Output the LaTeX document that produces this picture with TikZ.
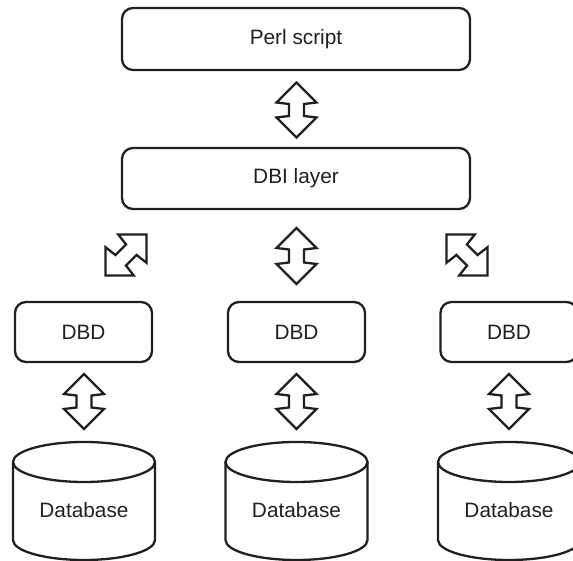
\documentclass[tikz,border=0pt]{standalone}
\usepackage{fontspec}
\setmainfont{Liberation Sans}
\definecolor{ink}{HTML}{231F20}
\begin{document}
\begin{tikzpicture}[x=1pt,y=1pt,
  stroke/.style={draw=ink,line width=2.3pt,line join=miter},
  txt/.style={text=ink,font=\fontsize{20.8}{24}\selectfont,inner sep=0pt},
  layerbox/.style={stroke,txt,rounded corners=11pt},
  % open double-headed block arrow, pointing along the local y axis
  pics/dblarrow/.style={code={
    \draw[stroke,fill=white]
      (0,#1) -- (20,{#1-20}) -- (7.5,{#1-21.5}) -- (7.5,{-#1+21.5}) -- (20,{-#1+20})
      -- (0,-#1) -- (-20,{-#1+20}) -- (-7.5,{-#1+21.5}) -- (-7.5,{#1-21.5})
      -- (-20,{#1-20}) -- cycle;
  }}]
\useasboundingbox (0,0) rectangle (573,561);

% application and DBI layers
\node[layerbox,minimum width=348pt,minimum height=62pt] (perl) at (296,522) {Perl script};
\node[layerbox,minimum width=348pt,minimum height=61pt] (dbi) at (296,382.5) {DBI layer};

% driver boxes
\node[layerbox,minimum width=137pt,minimum height=60pt] (dbd1) at (83.5,229) {DBD};
\node[layerbox,minimum width=137pt,minimum height=60pt] (dbd2) at (296.5,229) {DBD};
\node[layerbox,minimum width=137pt,minimum height=60pt] (dbd3) at (509,229) {DBD};

% block arrows between the layers
\pic (top) at (296.5,451) {dblarrow=27.5};
\pic (mid) at (296.5,305) {dblarrow=28};
\pic[rotate=-45] (left) at (126,306) {dblarrow=29};
\pic[rotate=45] (right) at (467,306) {dblarrow=29};
\foreach \cx/\n in {84/1,296.5/2,509/3}{
  \pic (drv\n) at (\cx,159.5) {dblarrow=27.5};
}

% database cylinders
\foreach \cx/\n in {84/1,296.5/2,509/3}{
  \draw[stroke] (\cx,99) ellipse [x radius=71,y radius=20];
  \draw[stroke] ({\cx-71},99) -- ({\cx-71},21)
    arc[start angle=180,end angle=360,x radius=71,y radius=20] -- ({\cx+71},99);
  \node[txt] (db\n) at (\cx,51) {Database};
}
\end{tikzpicture}
\end{document}
